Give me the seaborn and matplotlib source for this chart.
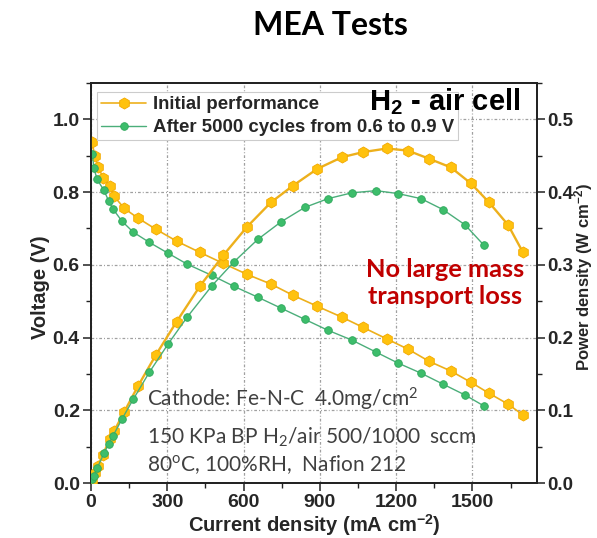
import matplotlib
matplotlib.use("Agg")
import matplotlib.pyplot as plt
from matplotlib.ticker import MultipleLocator
import seaborn as sns
import pandas as pd

# Polarization data: current density (mA cm^-2), cell voltage (V), power density (W cm^-2)
current_init = [3, 16, 28, 47, 75, 92, 131, 186, 255, 337, 429, 520, 613, 708, 795,
                890, 987, 1070, 1164, 1247, 1329, 1415, 1494, 1565, 1640, 1699]
voltage_init = [0.937, 0.900, 0.870, 0.840, 0.816, 0.788, 0.755, 0.728, 0.698, 0.665,
                0.634, 0.604, 0.574, 0.547, 0.516, 0.486, 0.456, 0.428, 0.396, 0.368,
                0.335, 0.308, 0.277, 0.247, 0.217, 0.187]
power_init = [0.003, 0.014, 0.024, 0.039, 0.061, 0.072, 0.098, 0.134, 0.176, 0.222,
              0.271, 0.313, 0.352, 0.386, 0.409, 0.432, 0.448, 0.455, 0.460, 0.457,
              0.446, 0.434, 0.412, 0.386, 0.355, 0.317]

current_aged = [5, 12, 24, 51, 70, 87, 122, 166, 229, 303, 378, 475, 562, 656, 747,
                841, 932, 1026, 1121, 1207, 1298, 1384, 1471, 1545]
voltage_aged = [0.904, 0.865, 0.835, 0.805, 0.775, 0.753, 0.720, 0.690, 0.662, 0.632,
                0.602, 0.571, 0.541, 0.511, 0.481, 0.450, 0.420, 0.393, 0.360, 0.330,
                0.302, 0.272, 0.242, 0.212]
power_aged = [0.005, 0.010, 0.020, 0.041, 0.054, 0.065, 0.088, 0.115, 0.152, 0.191,
              0.228, 0.271, 0.304, 0.335, 0.359, 0.379, 0.391, 0.399, 0.402, 0.398,
              0.391, 0.376, 0.355, 0.327]

label_init = "Initial performance"
label_aged = "After 5000 cycles from 0.6 to 0.9 V"

x_ticks = [0, 300, 600, 900, 1200, 1500]
v_ticks = [0.0, 0.2, 0.4, 0.6, 0.8, 1.0]
p_ticks = [0.0, 0.1, 0.2, 0.3, 0.4, 0.5]

df_init = pd.DataFrame({"I": current_init, "V": voltage_init, "P": power_init})
df_aged = pd.DataFrame({"I": current_aged, "V": voltage_aged, "P": power_aged})

sns.set_style("ticks")
plt.rcParams["font.family"] = ["Liberation Sans", "DejaVu Sans"]
plt.rcParams["mathtext.fontset"] = "custom"
plt.rcParams["mathtext.rm"] = "Lato"
plt.rcParams["mathtext.it"] = "Lato:italic"
plt.rcParams["mathtext.bf"] = "Liberation Sans:bold"

ORANGE_FACE = "#FFC20E"
ORANGE_EDGE = "#F2A900"
ORANGE_LINE = "#EDB01C"
GREEN_FACE = "#3DBD6B"
GREEN_EDGE = "#2FA85C"
GREEN_LINE = "#4BAE7A"

fig = plt.figure(figsize=(5.97, 5.38), dpi=100)
ax = fig.add_axes([0.1524, 0.1022, 0.7471, 0.7435])
ax2 = ax.twinx()

# voltage curves (left axis)
sns.lineplot(data=df_init, x="I", y="V", ax=ax, color=ORANGE_LINE, lw=1.2,
             marker="h", ms=8, mfc=ORANGE_FACE, mec=ORANGE_EDGE, mew=0.6,
             label=label_init, zorder=3)
sns.lineplot(data=df_aged, x="I", y="V", ax=ax, color=GREEN_LINE, lw=1.0,
             marker="o", ms=5.5, mfc=GREEN_FACE, mec=GREEN_EDGE, mew=0.6,
             label=label_aged, zorder=3)

# power-density curves (right axis)
sns.lineplot(data=df_init, x="I", y="P", ax=ax2, color=ORANGE_LINE, lw=1.7,
             marker="h", ms=8, mfc=ORANGE_FACE, mec=ORANGE_EDGE, mew=0.6,
             legend=False, zorder=3)
sns.lineplot(data=df_aged, x="I", y="P", ax=ax2, color=GREEN_LINE, lw=1.0,
             marker="o", ms=5.5, mfc=GREEN_FACE, mec=GREEN_EDGE, mew=0.6,
             legend=False, zorder=3)

ax.set_xlim(0, 1754)
ax.set_ylim(0, 1.1)
ax2.set_ylim(0, 0.55)

ax.set_xticks(x_ticks)
ax.set_xticklabels([str(t) for t in x_ticks])
ax.set_yticks(v_ticks)
ax.set_yticklabels([f"{t:.1f}" for t in v_ticks])
ax2.set_yticks(p_ticks)
ax2.set_yticklabels([f"{t:.1f}" for t in p_ticks])
ax.xaxis.set_minor_locator(MultipleLocator(150))
ax.yaxis.set_minor_locator(MultipleLocator(0.1))
ax2.yaxis.set_minor_locator(MultipleLocator(0.05))

for lab in ax.get_xticklabels() + ax.get_yticklabels():
    lab.set_fontsize(14)
    lab.set_fontweight("bold")
for lab in ax2.get_yticklabels():
    lab.set_fontsize(13.5)
    lab.set_fontweight("bold")

for a in (ax, ax2):
    a.tick_params(which="major", direction="out", length=6, width=1.1, pad=2, color="#222222")
    a.tick_params(which="minor", direction="out", length=3.5, width=1.0, color="#222222")
    for s in a.spines.values():
        s.set_linewidth(1.3)
        s.set_color("#222222")

ax.tick_params(axis="y", which="both", right=False)
ax2.tick_params(axis="y", which="both", left=False)
ax2.tick_params(axis="y", which="major", pad=1.5)

# grid
ax.grid(True, which="major", axis="both", color="#a0a0a0", lw=0.9,
        linestyle=(0, (2.2, 1.6, 0.8, 1.6)))
ax.set_axisbelow(True)

ax.set_xlabel(r"Current density (mA cm$^{\mathbf{-2}}$)", fontsize=14.5,
              fontweight="bold", labelpad=1)
ax.set_ylabel("Voltage (V)", fontsize=14.5, fontweight="bold")
ax.yaxis.label.set_verticalalignment("center")
ax.yaxis.set_label_coords(-0.114, 0.49)
ax2.set_ylabel(r"Power density (W cm$^{\mathbf{-2}}$)", fontsize=12,
               fontweight="bold", rotation=90)
ax2.yaxis.label.set_verticalalignment("center")
ax2.yaxis.set_label_coords(1.104, 0.515)

leg = ax.legend(loc="upper left", bbox_to_anchor=(0.014, 0.977), frameon=True,
                fancybox=False, edgecolor="#cccccc", framealpha=1.0,
                handlelength=2.4, handletextpad=0.35, borderpad=0.22,
                labelspacing=0.32, borderaxespad=0.0,
                prop={"family": "Liberation Sans", "weight": "bold", "size": 13.4})
leg.set_zorder(5)
leg.get_frame().set_linewidth(0.8)

ax.text(0.794, 0.952, r"H$_{\mathbf{2}}$ - air cell", transform=ax.transAxes,
        ha="center", va="center", fontsize=21, fontweight="bold", color="black",
        zorder=6)

ax2.text(0.794, 0.5, "No large mass\ntransport loss", transform=ax.transAxes,
         ha="center", va="center", fontsize=18.3, fontweight="bold", color="#C00000",
         family="Lato", linespacing=1.25, zorder=6)

note_kw = dict(transform=ax.transAxes, ha="left", va="center", fontsize=15,
               color="#404040", family="Lato", zorder=6)
ax.text(0.125, 0.21, r"Cathode: Fe-N-C  4.0mg/cm$^2$", **note_kw)
ax.text(0.125, 0.115, r"150 KPa BP H$_2$/air 500/1000  sccm", **note_kw)
ax.text(0.125, 0.045, r"80$^{\rm o}$C, 100%RH,  Nafion 212", **note_kw)

fig.text(0.554, 0.953, "MEA Tests", ha="center", va="center", fontsize=23,
         fontweight="bold", family="Lato", color="black")

fig.savefig("out.png", dpi=100)
